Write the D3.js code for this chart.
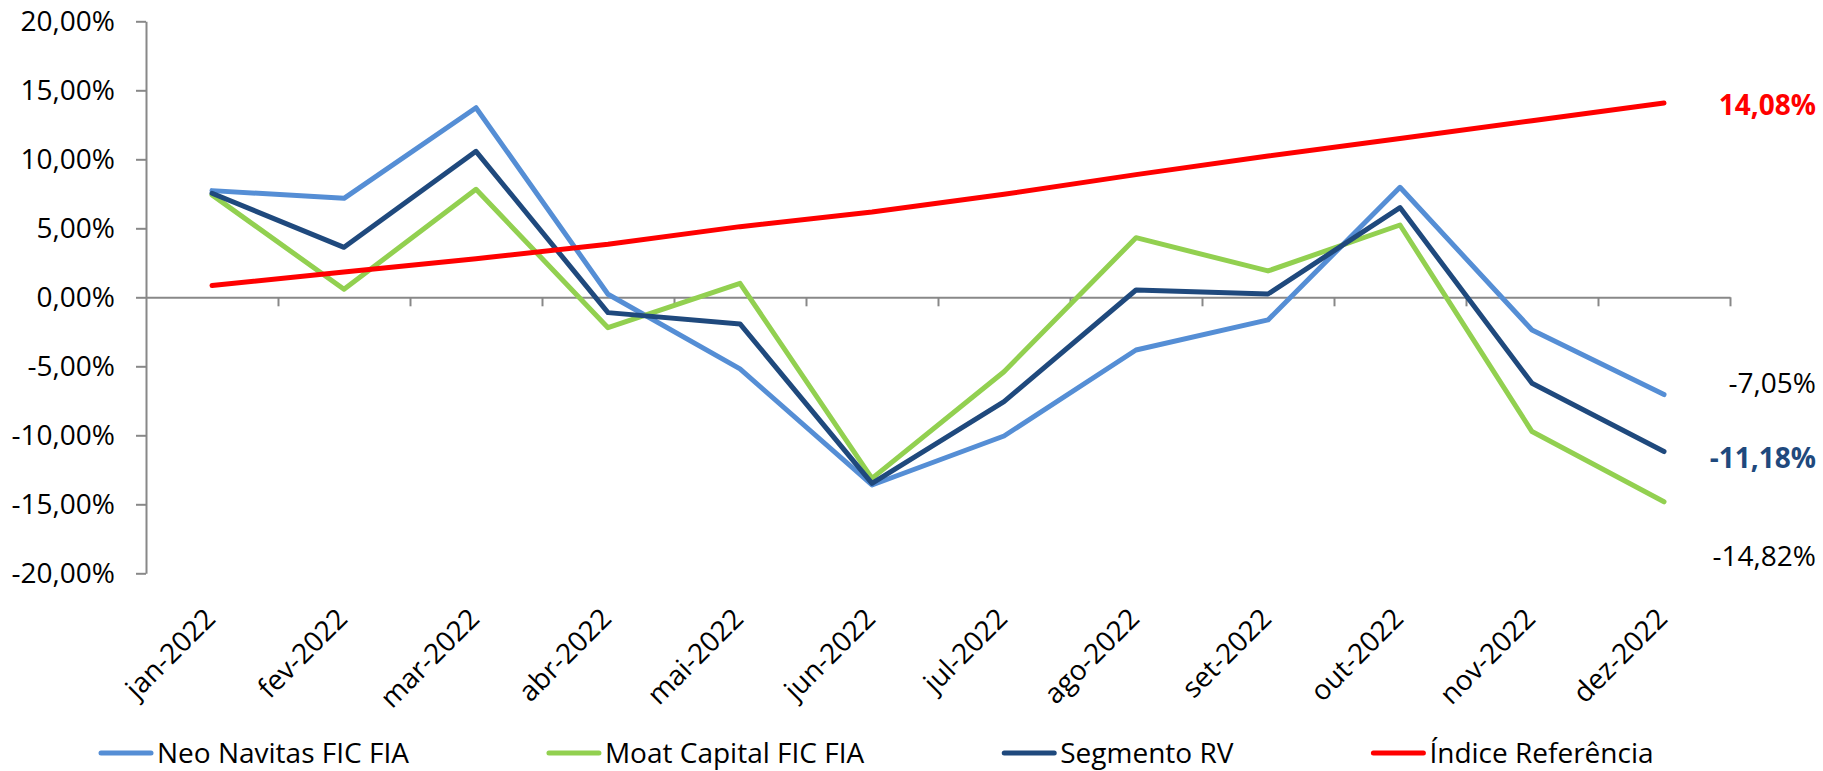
<!DOCTYPE html>
<html>
<head>
<meta charset="utf-8">
<script src="https://cdn.jsdelivr.net/npm/d3@7"></script>
<style>
  html, body { margin: 0; padding: 0; background: #fff; }
  svg { display: block; font-family: "Open Sans", sans-serif; }
</style>
</head>
<body>
<svg id="chart" width="1823" height="771"></svg>
<script>
// dados (rentabilidade mensal acumulada, %)
var categories = ["jan-2022", "fev-2022", "mar-2022", "abr-2022", "mai-2022", "jun-2022",
                  "jul-2022", "ago-2022", "set-2022", "out-2022", "nov-2022", "dez-2022"];
var neoNavitas  = [7.73, 7.17, 13.74, 0.22, -5.19, -13.60, -10.05, -3.82, -1.64, 7.97, -2.37, -7.05];
var moatCapital = [7.42, 0.58, 7.83, -2.20, 1.01, -13.12, -5.39, 4.32, 1.91, 5.24, -9.73, -14.82];
var segmentoRV  = [7.54, 3.62, 10.58, -1.11, -1.93, -13.48, -7.56, 0.53, 0.24, 6.50, -6.23, -11.18];
var indiceRef   = [0.85, 1.84, 2.80, 3.84, 5.12, 6.18, 7.46, 8.89, 10.24, 11.50, 12.80, 14.08];
var yTicks = [-20, -15, -10, -5, 0, 5, 10, 15, 20];

var series = [
    { name: "Neo Navitas FIC FIA", values: neoNavitas,  color: "#558ED5", label: { dy: -12, color: "#000", bold: false } },
    { name: "Moat Capital FIC FIA", values: moatCapital, color: "#92D050", label: { dy: 54, color: "#000", bold: false } },
    { name: "Segmento RV", values: segmentoRV,  color: "#1F497D", label: { dy: 6, color: "#1F497D", bold: true } },
    { name: "Índice Referência", values: indiceRef,   color: "#FF0000", label: { dy: 2, color: "#FF0000", bold: true } }
];

var ptBR = d3.formatLocale({ decimal: ",", thousands: ".", grouping: [3], currency: ["R$", ""], minus: "-" });
var fmt = ptBR.format(".2f");
function pct(v) { return fmt(v) + "%"; }

var svg = d3.select("#chart");
var plotLeft = 146, plotRight = 1730, plotTop = 21.3, plotBottom = 573.3;

var x = d3.scaleBand().domain(categories).range([plotLeft, plotRight]);
var xEdge = d3.scaleLinear().domain([0, categories.length]).range([plotLeft, plotRight]);
var y = d3.scaleLinear().domain([-20, 20]).range([plotBottom, plotTop]);

// eixo Y
var yAxis = svg.append("g")
    .attr("transform", "translate(" + plotLeft + ",0)")
    .call(d3.axisLeft(y).tickValues(yTicks).tickSize(10).tickSizeOuter(0).tickPadding(21).tickFormat(pct));
yAxis.selectAll("path, line").attr("stroke", "#888").attr("stroke-width", 2);
yAxis.selectAll("text").attr("font-size", 28).attr("font-family", "Open Sans").attr("fill", "#000");

// eixo X (na linha do zero)
var xAxis = svg.append("g")
    .attr("transform", "translate(0," + y(0) + ")")
    .call(d3.axisBottom(xEdge).tickValues(d3.range(1, categories.length + 1)).tickSize(9).tickSizeOuter(0).tickFormat(""));
xAxis.selectAll("path, line").attr("stroke", "#888").attr("stroke-width", 2);

// rotulos de categoria
svg.append("g").selectAll("text")
    .data(categories)
    .enter().append("text")
    .attr("transform", function(d) {
        return "translate(" + (x(d) + x.bandwidth() / 2 + 5) + "," + (plotBottom + 47) + ") rotate(-45)";
    })
    .attr("text-anchor", "end")
    .attr("font-size", 28)
    .attr("fill", "#000")
    .text(function(d) { return d; });

// linhas
var line = d3.line()
    .x(function(d, i) { return x(categories[i]) + x.bandwidth() / 2; })
    .y(function(d) { return y(d); });

svg.append("g").selectAll("path")
    .data(series)
    .enter().append("path")
    .attr("d", function(s) { return line(s.values); })
    .attr("fill", "none")
    .attr("stroke", function(s) { return s.color; })
    .attr("stroke-width", 5)
    .attr("stroke-linejoin", "round")
    .attr("stroke-linecap", "round");

// valores finais
svg.append("g").selectAll("text")
    .data(series)
    .enter().append("text")
    .attr("x", 1816)
    .attr("y", function(s) { return y(s.values[s.values.length - 1]) + s.label.dy; })
    .attr("dy", "0.36em")
    .attr("text-anchor", "end")
    .attr("font-size", 28)
    .attr("font-weight", function(s) { return s.label.bold ? "bold" : "normal"; })
    .attr("fill", function(s) { return s.label.color; })
    .text(function(s) { return pct(s.values[s.values.length - 1]); });

// legenda
var legend = svg.append("g").attr("transform", "translate(99,753)");
var lx = 0;
series.forEach(function(s) {
    var g = legend.append("g").attr("transform", "translate(" + lx + ",0)");
    g.append("line")
        .attr("x1", 2).attr("x2", 52)
        .attr("stroke", s.color).attr("stroke-width", 5).attr("stroke-linecap", "round");
    var t = g.append("text")
        .attr("x", 58)
        .attr("dy", "0.36em")
        .attr("font-size", 28)
        .attr("fill", "#000")
        .text(s.name);
    lx += 58 + t.node().getComputedTextLength() + 138;
});
</script>
</body>
</html>
